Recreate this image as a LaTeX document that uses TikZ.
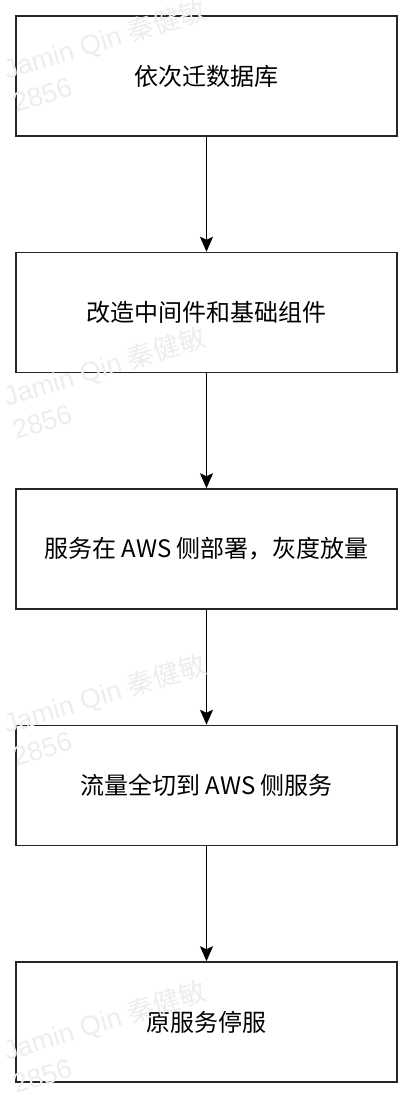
\documentclass[tikz,border=0pt]{standalone}
\usepackage{fontspec}
\setmainfont{Liberation Sans}
\newfontfamily\cjk{Noto Sans CJK SC}
\usetikzlibrary{positioning,arrows.meta}
\tikzset{
  stepbox/.style = {draw=black!85,line width=1.5pt,minimum width=381pt,minimum height=120pt,
    font=\cjk\fontsize{24}{29}\selectfont,inner sep=0pt},
  wmark/.style = {text=black!7,font=\fontsize{27}{32}\selectfont,rotate=17,anchor=base west,inner sep=0pt}
}
\tikzset{>={Stealth[length=15pt,width=13pt,inset=3pt]}}
\newcommand{\WM}{Jamin Qin {\cjk 秦健敏}}

\begin{document}
\begin{tikzpicture}[x=1pt,y=-1pt,node distance=115pt]
  \useasboundingbox (0,0) rectangle (414,1094);
  \node[stepbox] (db) at (206.5,76) {依次迁数据库};
  \node[stepbox,below=of db] (mw) {改造中间件和基础组件};
  \node[stepbox,below=of mw] (gray) {服务在 AWS 侧部署，灰度放量};
  \node[stepbox,below=of gray] (cut) {流量全切到 AWS 侧服务};
  \node[stepbox,below=of cut] (off) {原服务停服};
  \foreach \a/\b in {db/mw,mw/gray,gray/cut,cut/off}
    \draw[->,line width=1.6pt] (\a) -- (\b);
  % watermark
  \foreach \y in {0,327,654,981} {
    \node[wmark] (wm\y) at (7,80+\y) {\WM};
    \node[wmark] (wn\y) at (16,113+\y) {2856};
  }
\end{tikzpicture}
\end{document}
